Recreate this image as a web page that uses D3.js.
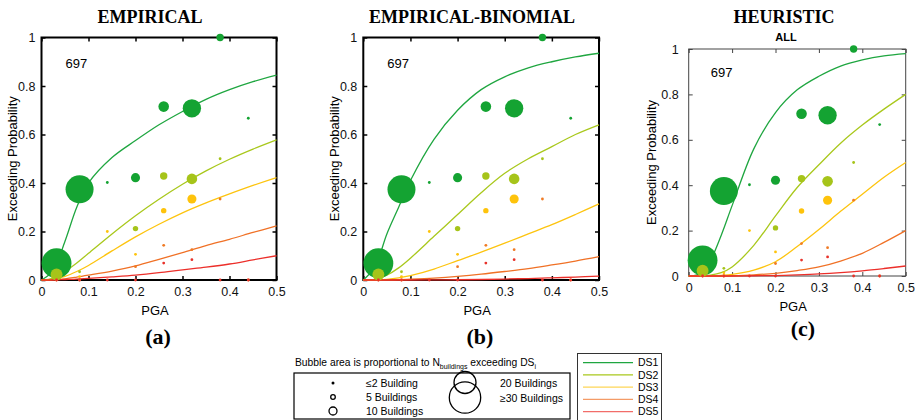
<!DOCTYPE html>
<html>
<head>
<meta charset="utf-8">
<script src="https://cdn.jsdelivr.net/npm/d3@7"></script>
<style>
  body { margin: 0; background: #fff; }
  svg { display: block; }
  text { font-family: "Liberation Sans", Arial, sans-serif; }
</style>
</head>
<body>
<div id="chart"></div>
<script>
// ---- data ----
const damageStates = ['DS1', 'DS2', 'DS3', 'DS4', 'DS5'];
const buildingCount = 697;

// observed exceedance: [PGA, probability, buildings exceeding]
const obsDS1 = [[0.032, 0.069, 28], [0.081, 0.374, 25], [0.14, 0.402, 1], [0.2, 0.422, 4], [0.26, 0.715, 5], [0.32, 0.708, 12], [0.38, 1.0, 3], [0.44, 0.667, 1]];
const obsDS2 = [[0.032, 0.023, 6], [0.081, 0.034, 1], [0.2, 0.212, 2], [0.26, 0.429, 3], [0.32, 0.417, 5], [0.38, 0.5, 1]];
const obsDS3 = [[0.081, 0.014, 1], [0.14, 0.2, 1], [0.2, 0.106, 1], [0.26, 0.286, 2], [0.32, 0.334, 4]];
const obsDS4 = [[0.032, 0, 1], [0.081, 0, 1], [0.2, 0.055, 1], [0.26, 0.143, 1], [0.32, 0.125, 1], [0.38, 0.334, 1], [0.44, 0, 1]];
const obsDS5 = [[0.032, 0, 1], [0.081, 0, 1], [0.14, 0, 1], [0.2, 0, 1], [0.26, 0.070, 1], [0.32, 0.084, 1], [0.38, 0, 1], [0.44, 0, 1]];

// fragility curves sampled at these PGA values
const curvePGA = [0, 0.025, 0.05, 0.075, 0.1, 0.15, 0.2, 0.25, 0.3, 0.35, 0.4, 0.45, 0.5];

const empirical = [
  [0, 0.04, 0.16, 0.30, 0.40, 0.505, 0.575, 0.64, 0.695, 0.745, 0.785, 0.818, 0.845],
  [0, 0.008, 0.035, 0.07, 0.11, 0.19, 0.265, 0.333, 0.395, 0.45, 0.498, 0.54, 0.578],
  [0, 0.003, 0.015, 0.035, 0.06, 0.12, 0.178, 0.23, 0.277, 0.318, 0.355, 0.39, 0.422],
  [0, 0.001, 0.005, 0.012, 0.02, 0.037, 0.058, 0.085, 0.113, 0.142, 0.168, 0.196, 0.223],
  [0, 0, 0.002, 0.004, 0.007, 0.013, 0.02, 0.03, 0.042, 0.053, 0.066, 0.083, 0.10]
];
const empiricalBinomial = [
  [0, 0.055, 0.19, 0.30, 0.41, 0.58, 0.70, 0.785, 0.838, 0.875, 0.90, 0.92, 0.935],
  [0, 0.003, 0.02, 0.05, 0.09, 0.18, 0.27, 0.36, 0.44, 0.50, 0.55, 0.60, 0.64],
  [0, 0, 0.003, 0.009, 0.018, 0.045, 0.08, 0.115, 0.152, 0.19, 0.228, 0.27, 0.314],
  [0, 0, 0, 0.001, 0.003, 0.008, 0.015, 0.024, 0.035, 0.047, 0.062, 0.078, 0.096],
  [0, 0, 0, 0, 0, 0.0005, 0.001, 0.002, 0.004, 0.006, 0.009, 0.012, 0.016]
];
const heuristic = [
  [0, 0.01, 0.07, 0.18, 0.31, 0.56, 0.72, 0.82, 0.88, 0.925, 0.952, 0.97, 0.98],
  [0, 0, 0.004, 0.015, 0.04, 0.135, 0.265, 0.39, 0.49, 0.585, 0.665, 0.735, 0.80],
  [0, 0, 0.001, 0.003, 0.007, 0.026, 0.063, 0.13, 0.205, 0.285, 0.36, 0.435, 0.50],
  [0, 0, 0, 0, 0.001, 0.005, 0.012, 0.024, 0.04, 0.066, 0.10, 0.148, 0.20],
  [0, 0, 0, 0, 0, 0.001, 0.002, 0.005, 0.009, 0.015, 0.023, 0.033, 0.044]
];

const xTicks = [0, 0.1, 0.2, 0.3, 0.4, 0.5];
const yTicks = [0, 0.2, 0.4, 0.6, 0.8, 1];
const bubbleLegend = ['\u22642 Building', '5 Buildings', '10 Buildings', '20 Buildings', '\u226530 Buildings'];

// ---- styles / layout ----
const W = 917, H = 420;
const lineColor = ['#1fa640', '#a9c81c', '#fdc40f', '#f07126', '#ec2f2a'];
const dotColor  = ['#14a332', '#a6c41a', '#fec30b', '#f07a24', '#e8322a'];
const obs = [obsDS1, obsDS2, obsDS3, obsDS4, obsDS5];

const panels = [
  { title: 'EMPIRICAL', sub: null, curves: empirical, x0: 41.5, x1: 276.5, y0: 37.5, y1: 280,
    titleX: 150, labelX: 158, labelY: 344, ylabOff: 29.5, yPad: 6, frame: '#000', frameW: 2 },
  { title: 'EMPIRICAL-BINOMIAL', sub: null, curves: empiricalBinomial, x0: 363.3, x1: 599, y0: 37.5, y1: 280,
    titleX: 472, labelX: 480, labelY: 344, ylabOff: 28.6, yPad: 6, frame: '#000', frameW: 2 },
  { title: 'HEURISTIC', sub: 'ALL', curves: heuristic, x0: 688.7, x1: 905.7, y0: 49, y1: 276,
    titleX: 784, labelX: 803, labelY: 336, ylabOff: 37, yPad: 10, frame: '#444', frameW: 1 }
];
const panelTags = ['(a)', '(b)', '(c)'];

const svg = d3.select('#chart').append('svg').attr('width', W).attr('height', H);

const r = d3.scaleSqrt().domain([1, 30]).range([1.4, 15.5]).clamp(true);

panels.forEach((p, pi) => {
  const x = d3.scaleLinear().domain([0, 0.5]).range([p.x0, p.x1]);
  const y = d3.scaleLinear().domain([0, 1]).range([p.y1, p.y0]);
  const g = svg.append('g');
  const fmt = d => String(+d.toFixed(1));

  // title
  g.append('text').attr('x', p.titleX).attr('y', 23)
    .attr('text-anchor', 'middle')
    .style('font-family', '"Liberation Serif", "Times New Roman", serif')
    .style('font-weight', 'bold').style('font-size', '18px')
    .text(p.title);
  if (p.sub) {
    g.append('text').attr('x', p.titleX + 2).attr('y', 41)
      .attr('text-anchor', 'middle')
      .style('font-weight', 'bold').style('font-size', '11px')
      .text(p.sub);
  }

  // axes, ticks inward on all sides
  const axB = g.append('g').attr('transform', 'translate(0,' + p.y1 + ')')
    .call(d3.axisBottom(x).tickValues(xTicks).tickFormat(fmt).tickSizeInner(-4).tickSizeOuter(0).tickPadding(7));
  const axL = g.append('g').attr('transform', 'translate(' + p.x0 + ',0)')
    .call(d3.axisLeft(y).tickValues(yTicks).tickFormat(fmt).tickSizeInner(-4).tickSizeOuter(0).tickPadding(p.yPad));
  const axT = g.append('g').attr('transform', 'translate(0,' + p.y0 + ')')
    .call(d3.axisTop(x).tickValues(xTicks).tickFormat('').tickSizeInner(-4).tickSizeOuter(0));
  const axR = g.append('g').attr('transform', 'translate(' + p.x1 + ',0)')
    .call(d3.axisRight(y).tickValues(yTicks).tickFormat('').tickSizeInner(-4).tickSizeOuter(0));
  [axB, axL, axT, axR].forEach(a => {
    a.select('.domain').remove();
    a.selectAll('.tick line').attr('stroke', p.frame).attr('stroke-width', p.frameW === 2 ? 1.5 : 1);
    a.selectAll('.tick text').attr('fill', '#111').style('font-size', '12.5px')
      .style('font-family', '"Liberation Sans", Arial, sans-serif');
  });

  g.append('rect').attr('x', p.x0).attr('y', p.y0)
    .attr('width', p.x1 - p.x0).attr('height', p.y1 - p.y0)
    .attr('fill', 'none').attr('stroke', p.frame).attr('stroke-width', p.frameW);

  // axis labels
  const cy = (p.y0 + p.y1) / 2, cx = (p.x0 + p.x1) / 2;
  g.append('text')
    .attr('transform', 'translate(' + (p.x0 - p.ylabOff) + ',' + cy + ') rotate(-90)')
    .attr('text-anchor', 'middle').attr('dy', '0.35em').style('font-size', '13px').text('Exceeding Probability');
  g.append('text').attr('x', cx - 4).attr('y', p.y1 + 35)
    .attr('text-anchor', 'middle').style('font-size', '13px').text('PGA');
  g.append('text').attr('x', p.labelX).attr('y', p.labelY)
    .attr('text-anchor', 'middle')
    .style('font-family', '"Liberation Serif", "Times New Roman", serif')
    .style('font-weight', 'bold').style('font-size', '22px')
    .text(panelTags[pi]);

  g.append('text').attr('x', x(0.051)).attr('y', y(0.875))
    .style('font-size', '13px').text(buildingCount);

  // fitted curves
  const line = d3.line().x(d => x(d[0])).y(d => y(d[1])).curve(d3.curveCatmullRom.alpha(0.5));
  p.curves.forEach((vals, k) => {
    g.append('path')
      .datum(curvePGA.map((v, i) => [v, vals[i]]))
      .attr('d', line)
      .attr('fill', 'none').attr('stroke', lineColor[k]).attr('stroke-width', 1.3);
  });

  // bubbles
  obs.forEach((pts, k) => {
    g.append('g').selectAll('circle').data(pts).enter()
      .append('circle')
      .attr('cx', d => x(d[0])).attr('cy', d => y(d[1]))
      .attr('r', d => r(d[2]))
      .attr('fill', dotColor[k]);
  });
});

// ---- bubble size legend ----
const lg = svg.append('g');
const cap = lg.append('text').attr('x', 295).attr('y', 366).style('font-size', '10.3px');
cap.append('tspan').text('Bubble area is proportional to N');
cap.append('tspan').attr('dy', 3).style('font-size', '7px').text('buildings');
cap.append('tspan').attr('dy', -3).text(' exceeding DS');
cap.append('tspan').attr('dy', 3).style('font-size', '7px').text('i');

lg.append('rect').attr('x', 294).attr('y', 373).attr('width', 276).attr('height', 46)
  .attr('fill', 'none').attr('stroke', '#000').attr('stroke-width', 1.2);

const legendRadius = [1.5, 2.3, 4, 11, 15.7];
const legendPos = [[333, 383], [333, 397], [333, 411], [465, 382.5], [465, 397.5]];
const legendTextPos = [[366, 383], [366, 397], [366, 411], [500, 383], [500, 398]];
bubbleLegend.forEach((t, i) => {
  lg.append('circle').attr('cx', legendPos[i][0]).attr('cy', legendPos[i][1]).attr('r', legendRadius[i])
    .attr('fill', i === 0 ? '#000' : 'none').attr('stroke', '#000').attr('stroke-width', i === 0 ? 0 : 1.3);
  lg.append('text').attr('x', legendTextPos[i][0]).attr('y', legendTextPos[i][1])
    .attr('dy', '0.35em').style('font-size', '10.5px').text(t);
});

// ---- line legend ----
const ll = svg.append('g');
ll.append('rect').attr('x', 577.5).attr('y', 353.5).attr('width', 84).attr('height', 70)
  .attr('fill', '#fff').attr('stroke', '#333').attr('stroke-width', 1);
damageStates.forEach((ds, i) => {
  const yy = 362.7 + i * 12.25;
  ll.append('line').attr('x1', 583).attr('x2', 633).attr('y1', yy).attr('y2', yy)
    .attr('stroke', lineColor[i]).attr('stroke-width', 1.2).attr('stroke-opacity', i >= 2 ? 0.7 : 1);
  ll.append('text').attr('x', 638).attr('y', yy).attr('dy', '0.35em')
    .style('font-size', '10.5px').text(ds);
});
</script>
</body>
</html>
